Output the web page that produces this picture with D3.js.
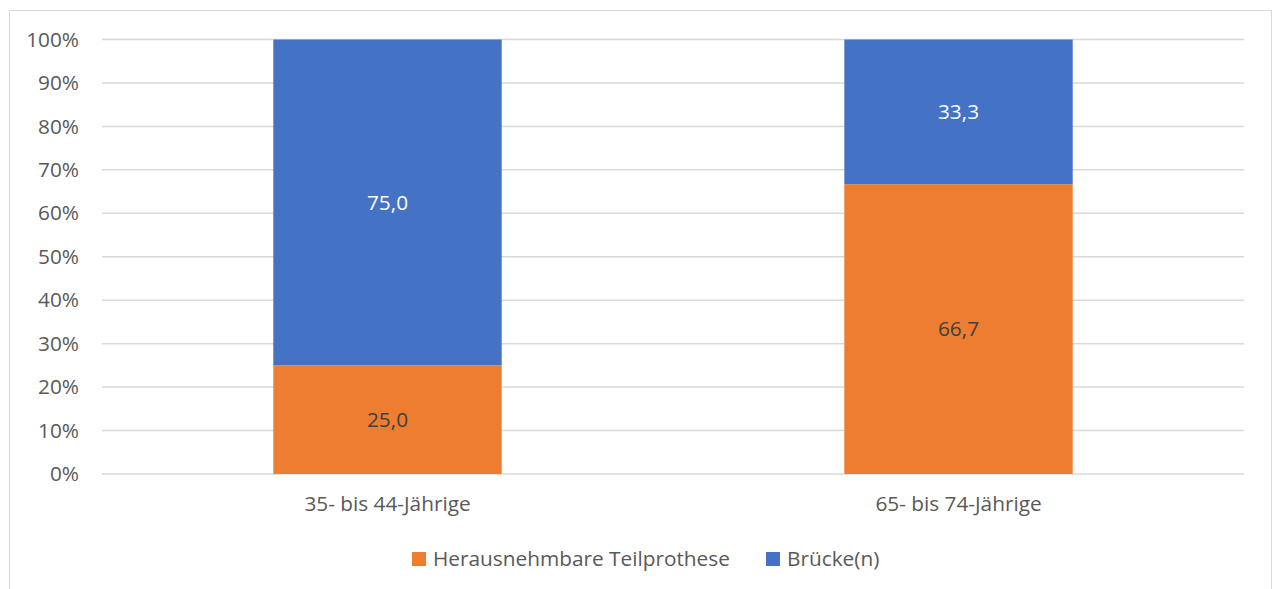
<!DOCTYPE html>
<html>
<head>
<meta charset="utf-8">
<script src="https://cdn.jsdelivr.net/npm/d3@7"></script>
<style>
  body { margin: 0; background: #fff; }
  text { font-family: "Open Sans", "Noto Sans", sans-serif; }
</style>
</head>
<body>
<div id="chart"></div>
<script>
// data
var categories = ["35- bis 44-Jährige", "65- bis 74-Jährige"];
var seriesNames = ["Herausnehmbare Teilprothese", "Brücke(n)"];
var teilprothese = [25.0, 66.7];
var bruecke = [75.0, 33.3];
var yTicks = [0, 10, 20, 30, 40, 50, 60, 70, 80, 90, 100];
var colors = ["#ED7D31", "#4472C4"];
var labelColors = ["#404040", "#ffffff"];

var W = 1274, H = 589;
var margin = {top: 39.5, right: 30, bottom: 115, left: 102};
var width = 1244 - margin.left,
    height = 474 - margin.top;
var fontSize = "20.8px";

var svg = d3.select("#chart").append("svg")
    .attr("width", W)
    .attr("height", H);

// chart frame
svg.append("rect")
    .attr("x", 9.5).attr("y", 10.5)
    .attr("width", 1262).attr("height", 600)
    .attr("fill", "#fff")
    .attr("stroke", "#d9d9d9")
    .attr("stroke-width", 1);

var g = svg.append("g")
    .attr("transform", "translate(" + margin.left + "," + margin.top + ")");

var x = d3.scaleBand()
    .domain(categories)
    .range([0, width])
    .paddingInner(0.6)
    .paddingOuter(0.3);

var y = d3.scaleLinear().domain([0, 100]).range([height, 0]);

// gridlines
g.selectAll("line.grid")
    .data(yTicks)
  .enter().append("line")
    .attr("class", "grid")
    .attr("x1", 0).attr("x2", width)
    .attr("y1", function(d) { return y(d); })
    .attr("y2", function(d) { return y(d); })
    .attr("stroke", "#d9d9d9")
    .attr("stroke-width", 1.5);

// y axis labels
var yAxis = d3.axisLeft(y)
    .tickValues(yTicks)
    .tickSize(0)
    .tickPadding(23)
    .tickFormat(function(d) { return d + "%"; });

var yg = g.append("g").call(yAxis);
yg.select(".domain").remove();
yg.selectAll("text")
    .style("font-size", fontSize)
    .attr("fill", "#595959");

// x axis labels
var xAxis = d3.axisBottom(x).tickSize(0).tickPadding(22);
var xg = g.append("g")
    .attr("transform", "translate(0," + height + ")")
    .call(xAxis);
xg.select(".domain").remove();
xg.selectAll("text")
    .style("font-size", fontSize)
    .attr("fill", "#595959");

// stacked data
var rows = categories.map(function(c, i) {
  return {cat: c, s0: teilprothese[i], s1: bruecke[i]};
});
var stack = d3.stack().keys(["s0", "s1"]);
var layers = stack(rows);

var layer = g.selectAll("g.layer")
    .data(layers)
  .enter().append("g")
    .attr("class", "layer")
    .attr("fill", function(d, i) { return colors[i]; });

layer.selectAll("rect")
    .data(function(d) { return d; })
  .enter().append("rect")
    .attr("x", function(d) { return x(d.data.cat); })
    .attr("width", x.bandwidth())
    .attr("y", function(d) { return y(d[1]); })
    .attr("height", function(d) { return y(d[0]) - y(d[1]); });

layer.each(function(l, i) {
  d3.select(this).selectAll("text")
      .data(l)
    .enter().append("text")
      .attr("x", function(d) { return x(d.data.cat) + x.bandwidth() / 2; })
      .attr("y", function(d) { return (y(d[0]) + y(d[1])) / 2; })
      .attr("dy", "0.35em")
      .attr("text-anchor", "middle")
      .attr("fill", labelColors[i])
      .style("font-size", fontSize)
      .text(function(d) { return (d[1] - d[0]).toFixed(1).replace(".", ","); });
});

// legend
var legendX = [412, 766];
var legend = svg.selectAll("g.legend")
    .data(seriesNames)
  .enter().append("g")
    .attr("class", "legend")
    .attr("transform", function(d, i) { return "translate(" + legendX[i] + ",552)"; });

legend.append("rect")
    .attr("width", 14).attr("height", 14)
    .attr("fill", function(d, i) { return colors[i]; });

legend.append("text")
    .attr("x", 21)
    .attr("y", 7)
    .attr("dy", "0.35em")
    .attr("fill", "#595959")
    .style("font-size", fontSize)
    .text(function(d) { return d; });
</script>
</body>
</html>
